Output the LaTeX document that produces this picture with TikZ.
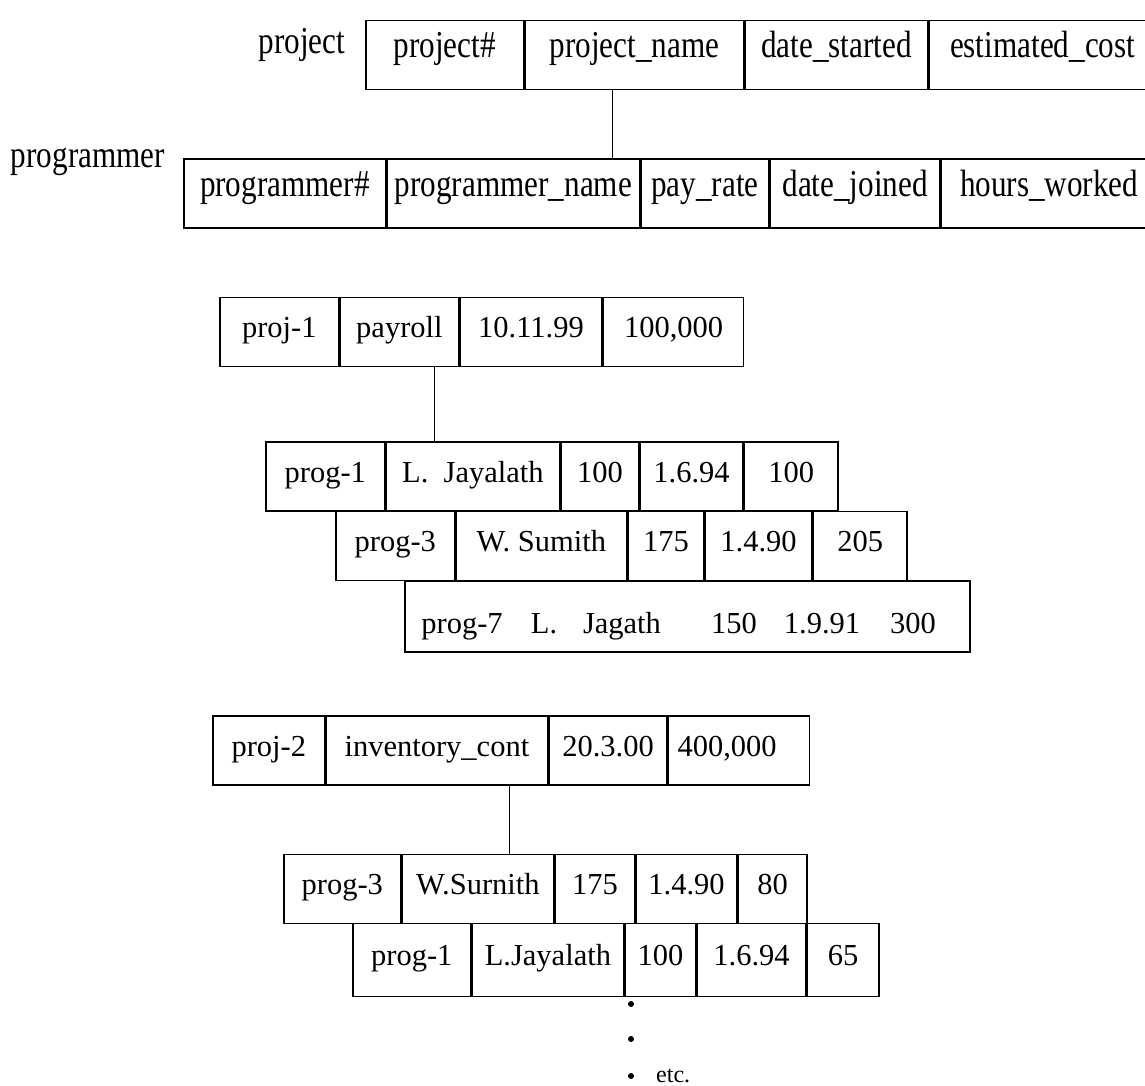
\documentclass[tikz,border=0pt]{standalone}
\usepackage{fontspec}
\setmainfont{Liberation Serif}
\newfontfamily\tallserif[FakeStretch=0.82]{Liberation Serif}
\usetikzlibrary{positioning}

\begin{document}
\begin{tikzpicture}[
  x=1pt, y=-1pt,
  cell/.style={draw, line width=1.6pt, inner sep=0pt, minimum height=69pt,
    font=\fontsize{30.5}{36}\selectfont, text height=20pt, text depth=9pt},
  head/.style={cell, font=\tallserif\fontsize{38}{44}\selectfont,
    text height=24pt, text depth=18pt},
  tag/.style={font=\tallserif\fontsize{38}{44}\selectfont, inner sep=0pt},
  word/.style={font=\fontsize{30.5}{36}\selectfont, inner sep=0pt, anchor=base},
  joint/.style={line width=1.8pt},
  bullet/.style={circle, fill, inner sep=0pt, minimum size=6pt}
]
\clip (0,0) rectangle (1145,1086);

% record types
\node[tag] (projtag) at (302,45) {project};
\node[head, anchor=west, minimum width=158pt] (pnum) at (365,55) {project\#};
\node[head, right=0pt of pnum, minimum width=218pt] (pname) {project\_name};
\node[head, right=0pt of pname, minimum width=183pt] (pstart) {date\_started};
\node[head, right=0pt of pstart, minimum width=226pt] (pcost) {estimated\_cost};

\node[tag] (progtag) at (88,162) {programmer};
\node[head, anchor=west, minimum width=202pt] (rnum) at (183,193.5) {programmer\#};
\node[head, right=0pt of rnum, minimum width=252pt] (rname) {programmer\_name};
\node[head, right=0pt of rname, minimum width=128pt] (rrate) {pay\_rate};
\node[head, right=0pt of rrate, minimum width=169pt] (rjoin) {date\_joined};
\node[head, right=0pt of rjoin, minimum width=216pt] (rhours) {hours\_worked};

\draw[joint] ([xshift=-22pt]pname.south) -- ([xshift=-22pt]pname.south |- rname.north);

% first project
\node[cell, anchor=west, minimum width=119pt] (j1id) at (219,332) {proj-1};
\node[cell, right=0pt of j1id, minimum width=118pt] (j1name) {payroll};
\node[cell, right=0pt of j1name, minimum width=142pt] (j1start) {10.11.99};
\node[cell, right=0pt of j1start, minimum width=140pt] (j1cost) {100,000};

\node[cell, anchor=west, minimum width=119pt] (a1id) at (265,476.5) {prog-1};
\node[cell, right=0pt of a1id, minimum width=173pt] (a1name) {L.\ \ Jayalath};
\node[cell, right=0pt of a1name, minimum width=78pt] (a1rate) {100};
\node[cell, right=0pt of a1rate, minimum width=102pt] (a1join) {1.6.94};
\node[cell, right=0pt of a1join, minimum width=94pt] (a1hours) {100};

\node[cell, anchor=west, minimum width=119pt] (a3id) at (335,546) {prog-3};
\node[cell, right=0pt of a3id, minimum width=170pt] (a3name) {W. Sumith};
\node[cell, right=0pt of a3name, minimum width=76pt] (a3rate) {175};
\node[cell, right=0pt of a3rate, minimum width=106pt] (a3join) {1.4.90};
\node[cell, right=0pt of a3join, minimum width=94pt] (a3hours) {205};

\node[cell, anchor=west, minimum width=565pt, minimum height=71pt] (a7) at (404,616.5) {};
\node[word] (a7id) at (462,633) {prog-7};
\node[word] (a7init) at (544,633) {L.};
\node[word] (a7name) at (622,633) {Jagath};
\node[word] (a7rate) at (734,633) {150};
\node[word] (a7join) at (822,633) {1.9.91};
\node[word] (a7hours) at (913,633) {300};

\draw[joint] ([xshift=35pt]j1name.south) -- ([xshift=35pt]j1name.south |- a1name.north);

% second project
\node[cell, anchor=west, minimum width=112pt] (j2id) at (212,750.5) {proj-2};
\node[cell, right=0pt of j2id, minimum width=221pt] (j2name) {inventory\_cont};
\node[cell, right=0pt of j2name, minimum width=118pt] (j2start) {20.3.00};
\node[cell, right=0pt of j2start, minimum width=141pt] (j2cost) {400,000\kern24pt};

\node[cell, anchor=west, minimum width=117pt] (b3id) at (283,889) {prog-3};
\node[cell, right=0pt of b3id, minimum width=151pt] (b3name) {W.Surnith};
\node[cell, right=0pt of b3name, minimum width=80pt] (b3rate) {175};
\node[cell, right=0pt of b3rate, minimum width=100pt] (b3join) {1.4.90};
\node[cell, right=0pt of b3join, minimum width=69pt] (b3hours) {80};

\node[cell, anchor=west, minimum width=118pt, minimum height=73pt] (b1id) at (352,960) {prog-1};
\node[cell, right=0pt of b1id, minimum width=151pt, minimum height=73pt] (b1name) {L.Jayalath};
\node[cell, right=0pt of b1name, minimum width=71pt, minimum height=73pt] (b1rate) {100};
\node[cell, right=0pt of b1rate, minimum width=108pt, minimum height=73pt] (b1join) {1.6.94};
\node[cell, right=0pt of b1join, minimum width=72pt, minimum height=73pt] (b1hours) {65};

\draw[joint] ([xshift=72.5pt]j2name.south) -- ([xshift=72.5pt]j2name.south |- b3name.north);

% more to follow
\node[bullet] (dot1) at (631,1004) {};
\node[bullet] (dot2) at (631,1039) {};
\node[bullet] (dot3) at (631,1076) {};
\node[font=\fontsize{24}{28}\selectfont, inner sep=0pt, anchor=base west] (etc) at (656,1082) {etc.};
\end{tikzpicture}
\end{document}
